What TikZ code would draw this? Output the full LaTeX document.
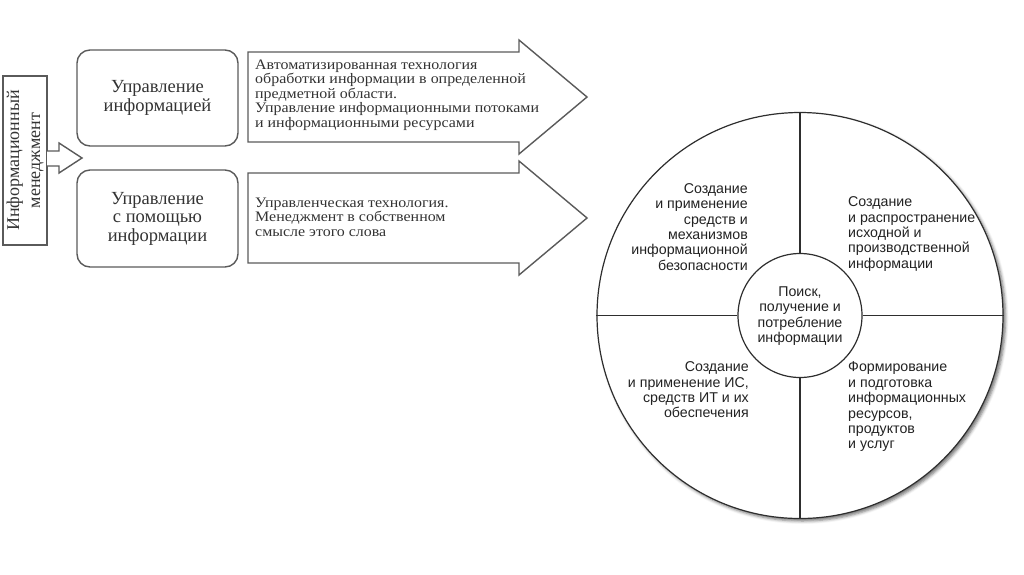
\documentclass[tikz,border=0pt]{standalone}
\usepackage{fontspec}
\setmainfont{Liberation Serif}
\newfontfamily\widef[FakeStretch=1.1]{Liberation Serif}
\newfontfamily\sansf{Liberation Sans}
\usetikzlibrary{shadows.blur}
\definecolor{scanline}{HTML}{5A5A5A}
\definecolor{scantext}{HTML}{333333}
\definecolor{circline}{HTML}{2E2E2E}
\definecolor{circtext}{HTML}{222222}
\begin{document}
\begin{tikzpicture}[x=1pt,y=-1pt,
  leftline/.style={draw=scanline,line width=1.4pt},
  roundbox/.style={leftline,rounded corners=13pt,minimum width=161pt,minimum height=96pt,inner sep=0pt,
    font=\fontsize{18.5}{18.5}\selectfont,text=scantext,align=center},
  arrowtext/.style={font=\widef\fontsize{14.5}{14.5}\selectfont,text=scantext,align=left,inner sep=0pt,anchor=west},
  quad/.style={font=\sansf\fontsize{14.2}{15.4}\selectfont,text=circtext,inner sep=0pt},
  circline/.style={draw=circline,line width=1.2pt}
]
\useasboundingbox (0,0) rectangle (1024,574);

% vertical box
\node[leftline,rotate=90,minimum width=169pt,minimum height=44pt,inner sep=0pt,
  font=\fontsize{18}{21}\selectfont,text=scantext,align=center] (im) at (25,160.5)
  {Информационный\\менеджмент};

% small block arrow
\coordinate (sa1) at (47,151);
\coordinate (satip) at (82,158);
\draw[leftline,fill=white,line join=miter] (sa1) -- (59,151) -- (59,143) -- (satip) -- (59,173) -- (59,166) -- (47,166);

% rounded boxes
\node[roundbox] (ui) at (157.5,98) {Управление\\информацией};
\node[roundbox,minimum height=97pt] (upi) at (157.5,218.5) {Управление\\с помощью\\информации};

% big block arrows
\draw[leftline,line join=miter] (248,52) -- (519,52) -- (519,40) -- (587,97) -- (519,154) -- (519,142) -- (248,142) -- cycle;
\draw[leftline,line join=miter] (248,173) -- (519,173) -- (519,161) -- (587,218) -- (519,275) -- (519,263) -- (248,263) -- cycle;

\node[arrowtext] (t1) at (255,95) {Автоматизированная технология\\обработки информации в определенной\\предметной области.\\Управление информационными потоками\\и информационными ресурсами};
\node[arrowtext] (t2) at (255,217) {Управленческая технология.\\Менеджмент в собственном\\смысле этого слова};

% circle diagram
\node[circle,circline,fill=white,minimum size=406pt,inner sep=0pt,
  blur shadow={shadow xshift=2.5pt,shadow yshift=-2.5pt,shadow blur radius=3pt,shadow opacity=55}] (big) at (800,315.5) {};
\node[circle,circline,minimum size=124pt,inner sep=0pt] (small) at (800,315.5) {};
\draw[circline] (big.west) -- (small.west);
\draw[circline] (small.east) -- (big.east);
\draw[circline] (big.north) -- (small.north);
\draw[circline] (small.south) -- (big.south);

\node[quad,align=center] (c) at (800,316) {Поиск,\\получение и\\потребление\\информации};
\node[quad,align=right,anchor=east] (tl) at (748,227) {Создание\\и применение\\средств и\\механизмов\\информационной\\безопасности};
\node[quad,align=left,anchor=west] (tr) at (848,234) {Создание\\и распространение\\исходной и\\производственной\\информации};
\node[quad,align=right,anchor=east] (bl) at (749,390) {Создание\\и применение ИС,\\средств ИТ и их\\обеспечения};
\node[quad,align=left,anchor=west] (br) at (848,407) {Формирование\\и подготовка\\информационных\\ресурсов,\\продуктов\\и услуг};
\end{tikzpicture}
\end{document}
